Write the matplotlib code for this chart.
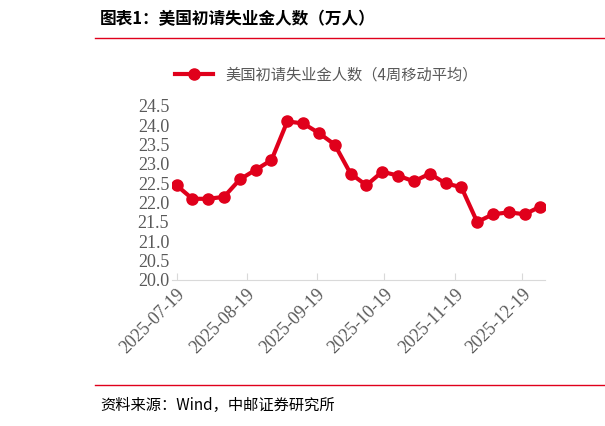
import matplotlib
matplotlib.use("Agg")
import matplotlib.pyplot as plt
import matplotlib.dates as mdates
import numpy as np
import datetime as dt

plt.rcParams['font.family'] = ['Noto Sans CJK SC', 'DejaVu Sans']

start = dt.date(2025, 7, 19)
dates = [start + dt.timedelta(weeks=i) for i in range(24)]
values = [22.45, 22.1, 22.1, 22.15, 22.6, 22.85, 23.1, 24.1, 24.05, 23.8, 23.5, 22.75,
          22.45, 22.8, 22.7, 22.55, 22.75, 22.5, 22.4, 21.5, 21.7, 21.75, 21.7, 21.9]
tick_dates = [dt.date(2025, m, 19) for m in range(7, 13)]
tick_labels = [d.strftime('%Y-%m-%d') for d in tick_dates]
series_name = '美国初请失业金人数（4周移动平均）'

red = '#E0001B'
fig = plt.figure(figsize=(6.05, 4.26), dpi=100)
ax = fig.add_axes([172/605, 1-280/426, (545-172)/605, (280-106)/426])
ax.plot(dates, values, color=red, lw=3, marker='o', ms=8, label=series_name)
ax.set_ylim(20, 24.5)
ax.set_yticks(np.arange(20, 24.51, 0.5))
ax.set_yticklabels([f'{v:.1f}' for v in np.arange(20, 24.51, 0.5)],
                   family='Liberation Serif', fontsize=13, color='#595959')
ax.set_xlim(dt.date(2025, 7, 17), dt.date(2025, 12, 29))
ax.set_xticks(tick_dates)
ax.set_xticklabels(tick_labels, rotation=45, ha='right', rotation_mode='anchor',
                   family='Liberation Serif', fontsize=13, color='#595959')
for s in ['top', 'right', 'left']:
    ax.spines[s].set_visible(False)
ax.spines['bottom'].set_color('#D9D9D9')
ax.tick_params(axis='y', length=0, pad=2)
ax.tick_params(axis='x', direction='in', length=5, color='#D9D9D9', pad=4)
leg = ax.legend(loc='lower left', bbox_to_anchor=(-0.03, 1.05), frameon=False,
                fontsize=11, handlelength=2.5, labelcolor='#595959')

fig.text(100/605, 1-19/426, '图表1：美国初请失业金人数（万人）', fontsize=12,
         fontweight='bold', va='center', color='#000000')
fig.add_artist(plt.Line2D([95/605, 1], [1-38/426]*2, color=red, lw=1))
fig.add_artist(plt.Line2D([95/605, 1], [1-385/426]*2, color=red, lw=1))
fig.text(100/605, 1-405/426, '资料来源：Wind，中邮证券研究所', fontsize=11,
         va='center', color='#000000')
fig.savefig('out.png', dpi=100)
